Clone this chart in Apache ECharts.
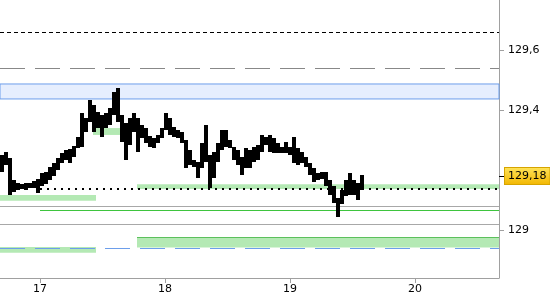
<!DOCTYPE html>
<html>
<head>
<meta charset="utf-8">
<script src="https://cdn.jsdelivr.net/npm/echarts@6/dist/echarts.min.js"></script>
<style>html,body{margin:0;padding:0;background:#fff}#c{width:550px;height:300px}</style>
</head>
<body>
<div id="c"></div>
<script>
// ---- data ----
const dayTicks = [17, 18, 19, 20];
const priceTicks = [129, 129.4, 129.6];
const lastPrice = 129.18;
const xMin = 16.68, xMax = 20.672;
const yMin = 128.84, yMax = 129.767;
const firstBarDay = 16.696;
const barStep = 0.032; // day fraction between bars

const highs = [129.250,129.260,129.240,129.167,129.157,129.153,129.157,129.157,129.163,129.170,
129.190,129.193,129.210,129.223,129.240,129.257,129.267,129.270,129.280,129.310,
129.390,129.373,129.433,129.417,129.393,129.383,129.390,129.407,129.460,129.473,
129.383,129.357,129.373,129.390,129.373,129.350,129.340,129.313,129.307,129.317,
129.340,129.390,129.373,129.343,129.333,129.327,129.300,129.267,129.233,129.227,
129.290,129.350,129.250,129.260,129.290,129.333,129.333,129.300,129.277,129.267,
129.243,129.273,129.267,129.277,129.283,129.317,129.310,129.317,129.307,129.290,
129.277,129.293,129.277,129.310,129.273,129.260,129.243,129.223,129.207,129.190,
129.193,129.193,129.167,129.147,129.107,129.133,129.167,129.190,129.167,129.157,129.183];
const lows = [129.193,129.217,129.117,129.127,129.133,129.137,129.133,129.140,129.140,129.123,
129.147,129.153,129.167,129.180,129.200,129.223,129.233,129.223,129.243,129.273,
129.277,129.327,129.360,129.327,129.340,129.310,129.340,129.350,129.383,129.360,
129.293,129.233,129.283,129.327,129.260,129.307,129.290,129.277,129.273,129.290,
129.307,129.333,129.317,129.310,129.307,129.290,129.207,129.217,129.210,129.173,
129.207,129.227,129.140,129.173,129.227,129.267,129.277,129.273,129.233,129.217,
129.183,129.207,129.207,129.227,129.233,129.260,129.283,129.260,129.257,129.257,
129.257,129.257,129.250,129.223,129.217,129.223,129.210,129.183,129.160,129.167,
129.170,129.147,129.117,129.090,129.043,129.087,129.113,129.117,129.117,129.100,129.133];

// levels
const shortDashLevel = 129.657;
const longDashLevel = 129.54;
const blueBand = [129.437, 129.487];
const peakGreenBand = {x: [17.424, 17.64], y: [129.317, 129.34]};
const upperGreenRight = {x: [17.776, xMax], y: [129.137, 129.153]};
const upperGreenLeft = {x: [xMin, 17.448], y: [129.098, 129.117]};
const dottedLevel = {x: [17.0, xMax], y: 129.137};
const grayLevels = [129.083, 129.023];
const greenLineLevel = {x: [17.0, xMax], y: 129.066};
const lowerGreenRight = {x: [17.776, xMax], y: [128.942, 128.976]};
const lowerGreenLeft = {x: [xMin, 17.448], y: [128.924, 128.943]};
const blueDashLevel = 128.942;

// ---- build ----
const bars = highs.map((h, i) => [firstBarDay + i * barStep, lows[i], h]);
const fmt = v => String(v).replace('.', ',');
const GREEN = '#b4e9b4';
const area = (b, extra) => [Object.assign({xAxis: b.x[0], yAxis: b.y[0]}, extra || {}), {xAxis: b.x[1], yAxis: b.y[1]}];

const chart = echarts.init(document.getElementById('c'), null, {renderer: 'canvas'});
chart.setOption({
  animation: false,
  grid: {left: 0, right: 51, top: 0, bottom: 22, containLabel: false, outerBoundsMode: 'none'},
  xAxis: {
    type: 'value', min: xMin, max: xMax,
    axisLine: {lineStyle: {color: '#a0a0a0'}},
    axisTick: {show: true, customValues: dayTicks, length: 5, lineStyle: {color: '#a0a0a0'}},
    axisLabel: {customValues: dayTicks, color: '#000', fontSize: 11, fontFamily: 'DejaVu Sans', margin: 6},
    splitLine: {show: false}
  },
  yAxis: [{
    type: 'value', position: 'right', min: yMin, max: yMax,
    axisLine: {show: true, lineStyle: {color: '#a0a0a0'}},
    axisTick: {show: true, customValues: priceTicks, length: 5, lineStyle: {color: '#a0a0a0'}},
    axisLabel: {customValues: priceTicks, formatter: fmt, color: '#000', fontSize: 11, fontFamily: 'DejaVu Sans', margin: 9},
    splitLine: {show: false}
  }, {
    type: 'value', position: 'right', min: yMin, max: yMax,
    axisLine: {show: false},
    axisTick: {show: true, customValues: [lastPrice], length: 5, lineStyle: {color: '#000'}},
    axisLabel: {customValues: [lastPrice], formatter: v => fmt(v.toFixed(2)), color: '#000', fontSize: 11, fontFamily: 'DejaVu Sans', margin: 6,
      padding: [3, 3, 2, 3], borderColor: '#d6a400', borderWidth: 1,
      backgroundColor: new echarts.graphic.LinearGradient(0, 0, 0, 1, [{offset: 0, color: '#ffe45a'}, {offset: 1, color: '#f2b600'}])},
    splitLine: {show: false}
  }],
  series: [{
    type: 'line', data: [], silent: true, z: 1,
    markArea: {
      silent: true,
      label: {show: false},
      data: [
        [{yAxis: blueBand[0], itemStyle: {color: '#e6eefe', borderColor: '#6d9eeb', borderWidth: 1}}, {yAxis: blueBand[1]}],
        area(peakGreenBand, {itemStyle: {color: GREEN}}),
        area(upperGreenRight, {itemStyle: {color: GREEN}}),
        area(upperGreenLeft, {itemStyle: {color: GREEN}}),
        area(lowerGreenRight, {itemStyle: {color: GREEN, borderColor: GREEN}}),
        area(lowerGreenLeft, {itemStyle: {color: GREEN}})
      ]
    },
    markLine: {
      silent: true, symbol: ['none', 'none'], label: {show: false},
      data: [
        {yAxis: shortDashLevel, lineStyle: {color: '#000', width: 1, type: [4, 3]}},
        {yAxis: longDashLevel, lineStyle: {color: '#888', width: 1, type: [25, 10]}},
        {yAxis: grayLevels[0], lineStyle: {color: '#a8a8a8', width: 1, type: 'solid'}},
        {yAxis: grayLevels[1], lineStyle: {color: '#a8a8a8', width: 1, type: 'solid'}},
        [{xAxis: greenLineLevel.x[0], yAxis: greenLineLevel.y, lineStyle: {color: '#3ec43e', width: 1, type: 'solid'}}, {xAxis: greenLineLevel.x[1], yAxis: greenLineLevel.y}],
        [{xAxis: lowerGreenRight.x[0], yAxis: lowerGreenRight.y[1], lineStyle: {color: '#5cc05c', width: 1, type: 'solid'}}, {xAxis: lowerGreenRight.x[1], yAxis: lowerGreenRight.y[1]}],
        {yAxis: blueDashLevel, lineStyle: {color: '#6d9eeb', width: 1, type: [25, 10]}},
        [{xAxis: dottedLevel.x[0], yAxis: dottedLevel.y, lineStyle: {color: '#000', width: 2, type: [2, 5]}}, {xAxis: dottedLevel.x[1], yAxis: dottedLevel.y}]
      ]
    }
  }, {
    type: 'custom', z: 5, silent: true,
    data: bars,
    encode: {x: 0, y: [1, 2]},
    renderItem: function (params, api) {
      const x = api.value(0);
      const lo = api.coord([x, api.value(1)]);
      const hi = api.coord([x, api.value(2)]);
      const w = 4;
      return {type: 'rect', shape: {x: Math.round(lo[0] - w / 2), y: Math.round(hi[1]), width: w, height: Math.max(1, Math.round(lo[1] - hi[1]))}, style: {fill: '#000'}};
    }
  }]
});
</script>
</body>
</html>
